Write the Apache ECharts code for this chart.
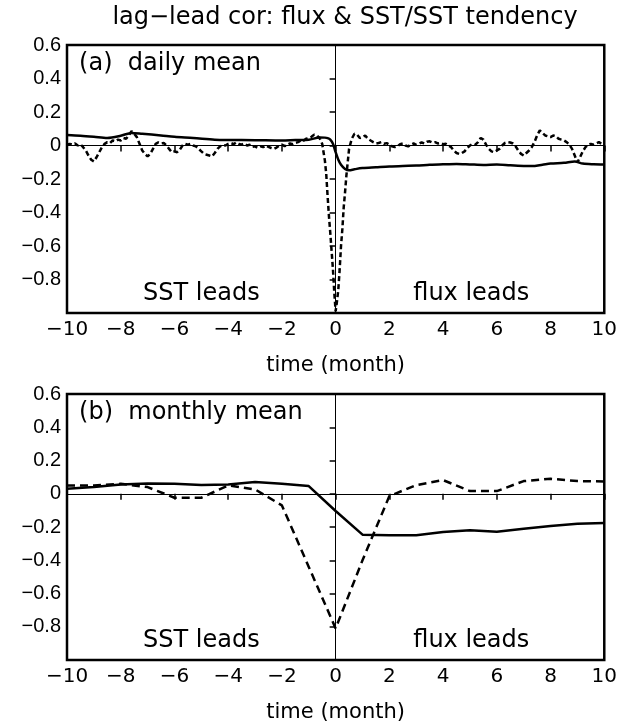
<!DOCTYPE html>
<html>
<head>
<meta charset="utf-8">
<script src="https://cdn.jsdelivr.net/npm/echarts@6/dist/echarts.min.js"></script>
<style>
html,body{margin:0;padding:0;background:#fff;}
#chart{width:620px;height:724px;}
</style>
</head>
<body>
<div id="chart"></div>
<script>
// ---------- data ----------
var titleText = 'lag\u2212lead cor: flux & SST/SST tendency';
var panelLabels = ['(a)  daily mean', '(b)  monthly mean'];
var leadLabels = ['SST leads', 'flux leads'];
var xTicks = [-10, -8, -6, -4, -2, 0, 2, 4, 6, 8, 10];
var yTicks = [0.6, 0.4, 0.2, 0, -0.2, -0.4, -0.6, -0.8];

// daily mean, dashed (flux vs SST tendency)
var dailyDashedX = [-10.0,-9.9,-9.8,-9.7,-9.6,-9.5,-9.4,-9.3,-9.2,-9.1,-9.0,-8.9,-8.8,-8.7,-8.6,-8.5,-8.4,-8.3,-8.2,-8.1,-8.0,-7.9,-7.8,-7.7,-7.6,-7.5,-7.4,-7.3,-7.2,-7.1,-7.0,-6.9,-6.8,-6.7,-6.6,-6.5,-6.4,-6.3,-6.2,-6.1,-6.0,-5.9,-5.8,-5.7,-5.6,-5.5,-5.4,-5.3,-5.2,-5.1,-5.0,-4.9,-4.8,-4.7,-4.6,-4.5,-4.4,-4.3,-4.2,-4.1,-4.0,-3.9,-3.8,-3.7,-3.6,-3.5,-3.4,-3.3,-3.2,-3.1,-3.0,-2.9,-2.8,-2.7,-2.6,-2.5,-2.4,-2.3,-2.2,-2.1,-2.0,-1.9,-1.8,-1.7,-1.6,-1.5,-1.4,-1.3,-1.2,-1.1,-1.0,-0.9,-0.8,-0.7,-0.6,-0.5,-0.45,-0.4,-0.35,-0.3,-0.25,-0.2,-0.15,-0.1,-0.05,0.0,0.05,0.1,0.15,0.2,0.25,0.3,0.35,0.4,0.45,0.5,0.6,0.7,0.8,0.9,1.0,1.1,1.2,1.3,1.4,1.5,1.6,1.7,1.8,1.9,2.0,2.1,2.2,2.3,2.4,2.5,2.6,2.7,2.8,2.9,3.0,3.1,3.2,3.3,3.4,3.5,3.6,3.7,3.8,3.9,4.0,4.1,4.2,4.3,4.4,4.5,4.6,4.7,4.8,4.9,5.0,5.1,5.2,5.3,5.4,5.5,5.6,5.7,5.8,5.9,6.0,6.1,6.2,6.3,6.4,6.5,6.6,6.7,6.8,6.9,7.0,7.1,7.2,7.3,7.4,7.5,7.6,7.7,7.8,7.9,8.0,8.1,8.2,8.3,8.4,8.5,8.6,8.7,8.8,8.9,9.0,9.1,9.2,9.3,9.4,9.5,9.6,9.7,9.8,9.9,10.0];
var dailyDashedY = [0.005,0.01,0.005,0.012,0.0,0.008,-0.01,-0.03,-0.06,-0.085,-0.095,-0.07,-0.04,-0.01,0.01,0.02,0.015,0.03,0.025,0.035,0.03,0.045,0.04,0.06,0.085,0.07,0.05,0.01,-0.03,-0.05,-0.065,-0.05,-0.02,0.01,0.018,0.012,0.015,0.0,-0.02,-0.04,-0.035,-0.04,-0.025,0.0,0.01,0.005,0.01,0.0,-0.005,-0.02,-0.035,-0.05,-0.055,-0.06,-0.065,-0.045,-0.02,-0.005,0.002,0.0,0.01,0.015,0.008,0.018,0.01,0.005,0.012,0.0,0.004,-0.008,-0.005,-0.014,-0.005,-0.01,0.0,-0.008,-0.015,-0.02,-0.012,0.0,0.005,-0.004,0.006,0.012,0.008,0.016,0.02,0.03,0.028,0.04,0.045,0.052,0.065,0.06,0.045,0.01,-0.04,-0.09,-0.17,-0.3,-0.42,-0.52,-0.63,-0.74,-0.88,-0.99,-0.93,-0.86,-0.74,-0.6,-0.5,-0.37,-0.28,-0.18,-0.1,-0.02,0.04,0.07,0.065,0.045,0.05,0.06,0.04,0.03,0.02,0.012,0.015,0.02,0.01,0.014,0.005,-0.005,-0.01,-0.005,0.008,0.012,0.0,-0.005,0.005,0.012,0.004,0.01,0.018,0.012,0.022,0.025,0.018,0.02,0.012,0.015,0.008,0.01,0.0,-0.01,-0.03,-0.045,-0.05,-0.045,-0.035,-0.015,0.0,0.01,0.005,0.02,0.045,0.035,0.005,-0.02,-0.035,-0.04,-0.03,-0.02,0.0,0.015,0.02,0.018,0.012,-0.005,-0.03,-0.05,-0.06,-0.045,-0.03,-0.01,0.02,0.06,0.09,0.075,0.06,0.055,0.05,0.06,0.055,0.04,0.035,0.03,0.02,0.005,-0.02,-0.06,-0.1,-0.07,-0.035,-0.01,0.005,0.01,0.005,0.012,0.02,0.01,0.015];

// daily mean, solid (flux vs SST)
var dailySolidX = [-10,-9.5,-9,-8.5,-8,-7.6,-7.2,-6.5,-6,-5.3,-4.5,-4,-3,-2,-1.5,-1,-0.6,-0.4,-0.3,-0.2,-0.1,0,0.1,0.2,0.35,0.5,0.7,1.0,1.5,2,2.5,3,3.5,4,4.5,5,5.5,6,6.5,7,7.3,7.7,8,8.5,8.9,9.2,9.6,10];
var dailySolidY = [0.062,0.058,0.052,0.045,0.058,0.075,0.07,0.06,0.052,0.045,0.035,0.033,0.032,0.03,0.033,0.035,0.048,0.047,0.044,0.035,0.01,-0.04,-0.085,-0.115,-0.14,-0.148,-0.142,-0.135,-0.13,-0.125,-0.122,-0.12,-0.115,-0.112,-0.11,-0.113,-0.116,-0.113,-0.118,-0.122,-0.123,-0.115,-0.108,-0.103,-0.095,-0.108,-0.112,-0.113];

// monthly mean
var monthX = [-10,-9,-8,-7,-6,-5,-4,-3,-2,-1,0,1,2,3,4,5,6,7,8,9,10];
var monthlySolidY = [0.03,0.04,0.056,0.062,0.06,0.052,0.056,0.07,0.06,0.046,-0.104,-0.246,-0.25,-0.25,-0.23,-0.22,-0.228,-0.21,-0.194,-0.18,-0.176];
var monthlyDashedY = [0.05,0.05,0.06,0.04,-0.024,-0.024,0.05,0.026,-0.07,-0.44,-0.81,-0.4,-0.014,0.052,0.082,0.016,0.016,0.076,0.09,0.076,0.074];

// ---------- chart ----------
function zip(xs, ys){ var o=[]; for(var i=0;i<xs.length;i++) o.push([xs[i], ys[i]]); return o; }
var TXT = '"DejaVu Sans"';
var grids = [
  {left:67, width:541, top:45, height:268},
  {left:67, width:541, top:394, height:269}
];
function fmtNum(v){
  var r = Math.round(v*10)/10;
  if (r === 0) return '0';
  var s = Math.abs(r).toFixed(1);
  return (r < 0 ? '\u2212' : '') + s;
}
function fmtX(v){ return v < 0 ? '\u2212' + Math.abs(v) : String(v); }

var xAxes = [], yAxes = [];
for (var g=0; g<2; g++){
  xAxes.push({
    type:'value', gridIndex:g, min:-10, max:10, interval:2,
    axisLine:{show:false},
    axisTick:{show:true, inside:false, length:6, lineStyle:{color:'#000', width:1.5}},
    splitLine:{show:false},
    axisLabel:{formatter:fmtX, color:'#000', fontFamily:TXT, fontSize:20, margin:7},
    name:'time (month)', nameLocation:'middle', nameGap:42,
    nameTextStyle:{color:'#000', fontFamily:TXT, fontSize:21}
  });
  yAxes.push({
    type:'value', gridIndex:g, min:-1, max:0.6, interval:0.2,
    axisLine:{show:false},
    axisTick:{show:true, inside:false, length:6, lineStyle:{color:'#000', width:1.5}},
    splitLine:{show:false},
    axisLabel:{formatter:function(v){ return Math.round(v*10) === -10 ? '' : fmtNum(v); },
      color:'#000', fontFamily:'Liberation Sans', fontSize:20, margin:6}
  });
}

var zeroLines = {
  silent:true, symbol:'none', label:{show:false},
  lineStyle:{color:'#000', width:1, type:'solid'},
  data:[{yAxis:0}, {xAxis:0}]
};

var option = {
  animation:false,
  backgroundColor:'#fff',
  title:{text:titleText, left:340, textAlign:'center', top:1,
    textStyle:{color:'#000', fontFamily:TXT, fontWeight:'normal', fontSize:24}},
  grid: grids.map(function(gr){ return Object.assign({show:true, borderColor:'#000', borderWidth:2.5, backgroundColor:'transparent'}, gr); }),
  xAxis:xAxes, yAxis:yAxes,
  series:[
    {type:'line', xAxisIndex:0, yAxisIndex:0, data:zip(dailySolidX, dailySolidY), symbol:'none', smooth:0.3,
      lineStyle:{color:'#000', width:2.5}, markLine:zeroLines, z:3},
    {type:'line', xAxisIndex:0, yAxisIndex:0, data:zip(dailyDashedX, dailyDashedY), symbol:'none',
      lineStyle:{color:'#000', width:2.5, type:[5,3]}, z:3},
    {type:'line', xAxisIndex:1, yAxisIndex:1, data:zip(monthX, monthlySolidY), symbol:'none',
      lineStyle:{color:'#000', width:2.5}, markLine:zeroLines, z:3},
    {type:'line', xAxisIndex:1, yAxisIndex:1, data:zip(monthX, monthlyDashedY), symbol:'none',
      lineStyle:{color:'#000', width:2.5, type:[8,5]}, z:3}
  ],
  graphic:[]
};

var chart = echarts.init(document.getElementById('chart'), null, {renderer:'canvas'});
chart.setOption(option);

// text annotations placed through the axes' own scales
function addTexts(){
  var gfx = [];
  var f = '24px ' + TXT;
  for (var g=0; g<2; g++){
    var p = chart.convertToPixel({gridIndex:g}, [-9.55, 0.49]);
    gfx.push({type:'text', x:p[0], y:p[1], style:{text:panelLabels[g], fill:'#000', font:f, textAlign:'left', textVerticalAlign:'middle'}});
    var s = chart.convertToPixel({gridIndex:g}, [-5, -0.885]);
    gfx.push({type:'text', x:s[0], y:s[1], style:{text:leadLabels[0], fill:'#000', font:f, textAlign:'center', textVerticalAlign:'middle'}});
    var q = chart.convertToPixel({gridIndex:g}, [5.05, -0.885]);
    gfx.push({type:'text', x:q[0], y:q[1], style:{text:leadLabels[1], fill:'#000', font:f, textAlign:'center', textVerticalAlign:'middle'}});
  }
  chart.setOption({graphic:gfx});
}
addTexts();
</script>
</body>
</html>
